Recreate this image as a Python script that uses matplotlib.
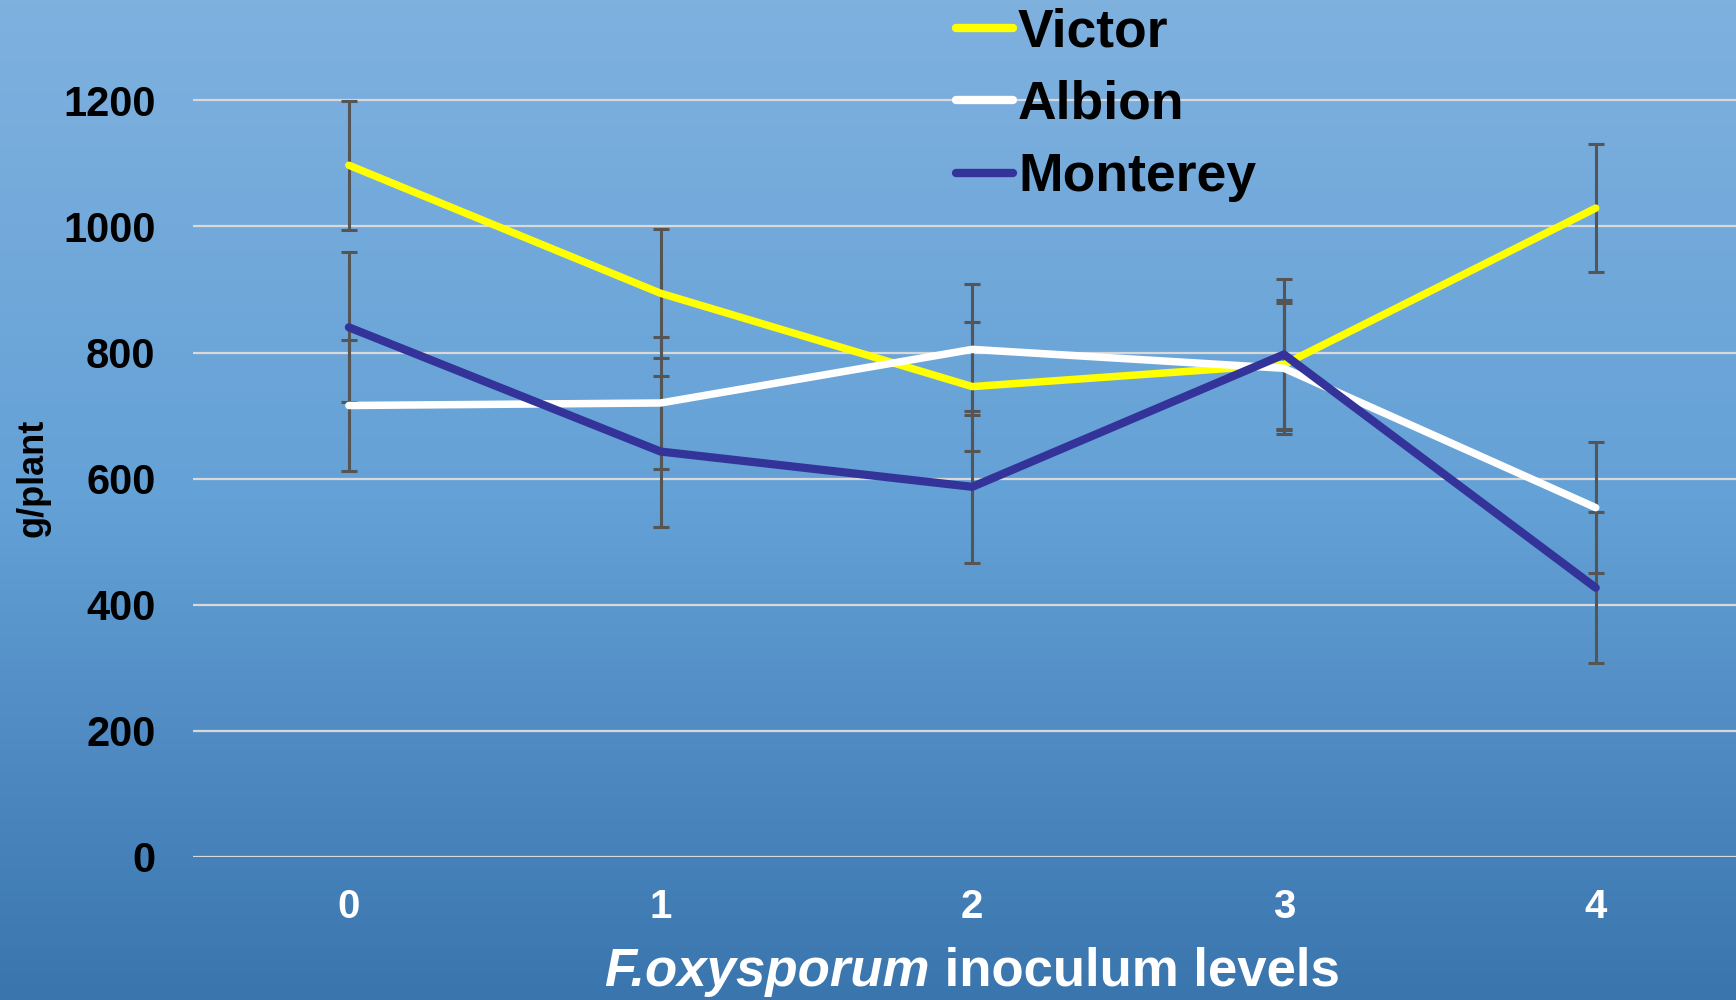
import numpy as np
import matplotlib
matplotlib.use("Agg")
import matplotlib.pyplot as plt
from matplotlib.colors import LinearSegmentedColormap

# inoculum levels and mean yield (g/plant) per cultivar
levels = [0, 1, 2, 3, 4]
victor = [1097, 894, 746, 781, 1029]
albion = [716, 720, 805, 775, 554]
monterey = [840, 643, 587, 797, 427]

# error bar half-widths read from the caps
victor_err = [102, 102, 102, 102, 102]
albion_err = [104, 104, 104, 104, 104]
monterey_err = [119, 120, 120, 120, 120]

yticks = [0, 200, 400, 600, 800, 1000, 1200]

plt.rcParams['font.family'] = ['Liberation Sans', 'DejaVu Sans']

W, H = 1736, 1000
fig = plt.figure(figsize=(W / 100, H / 100), dpi=100)

# background gradient over the whole figure
bg = fig.add_axes([0, 0, 1, 1], zorder=-10)
cmap = LinearSegmentedColormap.from_list("bg", ["#7fb1df", "#64a1d6", "#3a75ae"])
grad = np.linspace(0, 1, 256).reshape(-1, 1)
bg.imshow(grad, aspect="auto", cmap=cmap, extent=[0, 1, 0, 1])
bg.set_axis_off()

ax = fig.add_axes([193 / W, 0.143, 1 - 193 / W, 0.763])
ax.set_facecolor("none")
ax.set_xlim(-0.5, 4.45)
ax.set_ylim(0, 1210)

for y in yticks:
    ax.axhline(y, color="#d9d9d9", lw=1.6, zorder=1)

series = [
    ("Victor", victor, victor_err, "#ffff00", 5.4),
    ("Albion", albion, albion_err, "#ffffff", 5.4),
    ("Monterey", monterey, monterey_err, "#333399", 5.9),
]

for name, vals, err, col, lw in series:
    ax.errorbar(levels, vals, yerr=err, fmt="none", ecolor="#555555",
                elinewidth=2.2, capsize=6, capthick=2.2, zorder=2)

for name, vals, err, col, lw in series:
    ax.plot(levels, vals, color=col, lw=lw, solid_capstyle="round",
            solid_joinstyle="round", label=name, zorder=3)

ax.set_xticks(levels)
ax.set_xticklabels([str(v) for v in levels], color="white",
                   fontsize=29, fontweight="bold")
ax.set_yticks(yticks)
ax.set_yticklabels([str(v) for v in yticks], color="black",
                   fontsize=30, fontweight="bold")
ax.tick_params(axis="both", length=0)
ax.tick_params(axis="y", pad=27)
ax.tick_params(axis="x", pad=22)
for s in ax.spines.values():
    s.set_visible(False)

fig.text(33 / W, 1 - 478 / H, "g/plant", rotation=90, ha="center",
         va="center", fontsize=26, fontweight="bold", color="black")

# x axis title: italic species name followed by bold text, centred as a whole
renderer = fig.canvas.get_renderer()
t1 = fig.text(0, 1 - 972 / H, "F.oxysporum", ha="left", va="center",
              fontsize=38, fontweight="bold", fontstyle="italic", color="white")
t2 = fig.text(0, 1 - 972 / H, " inoculum levels", ha="left", va="center",
              fontsize=38, fontweight="bold", color="white")
w1 = t1.get_window_extent(renderer).width
w2 = t2.get_window_extent(renderer).width
x0 = 972 - (w1 + w2) / 2
t1.set_x(x0 / W)
t2.set_x((x0 + w1) / W)

leg = ax.legend(loc="upper left", bbox_to_anchor=(935 / W, 1.014),
                bbox_transform=fig.transFigure, frameon=False,
                handlelength=1.05, handletextpad=0.1, labelspacing=0.42,
                borderaxespad=0, prop={"size": 38.5, "weight": "bold"})
for h in leg.get_lines():
    h.set_linewidth(6)

fig.savefig("out.png", dpi=100)
